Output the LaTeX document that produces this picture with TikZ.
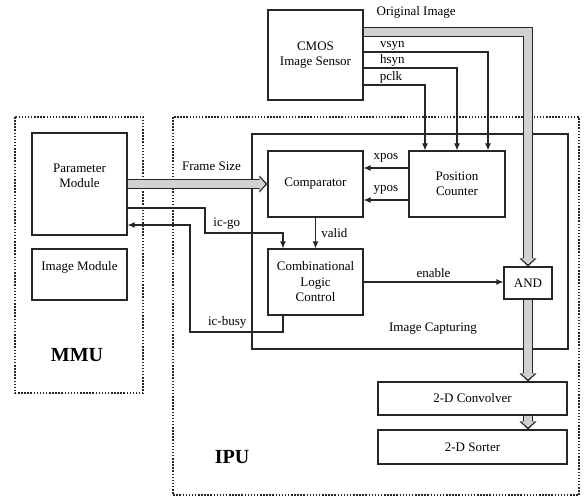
\documentclass[tikz,border=0pt]{standalone}
\usepackage{fontspec}
\setmainfont{Liberation Serif}
\usetikzlibrary{arrows.meta, positioning}

\begin{document}
\begin{tikzpicture}[x=1pt, y=-1pt, font=\fontsize{13}{15.5}\selectfont,
  blk/.style={draw=black!85, line width=1.1pt, minimum width=95pt, align=center, inner sep=2pt},
  grp/.style={draw=black!85, line width=1.5pt, dash pattern=on 1.5pt off 1.6pt},
  sig/.style={draw=black!85, line width=1.1pt, -{Latex[length=7pt,width=6pt]}},
  bus/.style={draw=black!85, line width=10.2pt, -{Triangle[length=8pt, width=17pt, line width=0pt]},
              postaction={draw=black!18, line width=8pt, shorten >=2pt,
                          -{Triangle[length=5.8pt, width=13pt, line width=0pt, color=black!18]}}},
  big/.style={font=\fontsize{20}{24}\selectfont\bfseries},
]
  \useasboundingbox (0,0) rectangle (584,498);
  % MMU, IPU and capture frames
  \draw[grp] (15,117) rectangle (143,393);
  \draw[grp] (173,117) rectangle (579,495);
  \draw[draw=black!85, line width=1.1pt] (252,134) rectangle (568,349);

  \node[blk, minimum height=90pt] (cmos) at (315.5,55) {CMOS\\Image Sensor};
  \node[blk, minimum height=102pt,
        label={[align=center, anchor=north, yshift=-28pt]north:{Parameter\\Module}}] (pm) at (79.5,184) {};
  \node[blk, minimum height=51pt,
        label={[anchor=north, yshift=-9pt]north:Image Module}] (im) at (79.5,274.5) {};
  \node[blk, minimum height=66pt] (comp) at (315.5,184) {Comparator};
  \node[blk, minimum width=96pt, minimum height=66pt] (pc) at (457,184) {Position\\Counter};
  \node[blk, minimum height=66pt] (clc) at (315.5,282) {Combinational\\Logic\\Control};
  \node[blk, minimum width=48pt, minimum height=32pt] (and) at (528,283) {AND};
  \node[blk, minimum width=189pt, minimum height=33pt] (conv) at (472.5,398.5) {2-D Convolver};
  \node[blk, minimum width=189pt, minimum height=34pt] (sort) at (472.5,447) {2-D Sorter};
  \node (cap) at (433,329) {Image Capturing};
  \node[big] (mmu) at (77,355) {MMU};
  \node[big] (ipu) at (232,457) {IPU};

  % sensor signals
  \draw[sig] ([yshift=3pt]cmos.east) -| ([xshift=31pt]pc.north)
    node[pos=0.06, anchor=south west, inner sep=1pt] {vsyn};
  \draw[sig] ([yshift=-13pt]cmos.east) -| (pc.north)
    node[pos=0.08, anchor=south west, inner sep=1pt] {hsyn};
  \draw[sig] ([yshift=-30pt]cmos.east) -| ([xshift=-32pt]pc.north)
    node[pos=0.12, anchor=south west, inner sep=1pt] {pclk};
  \draw[sig] ([yshift=16pt]pc.west) -- ([yshift=16pt]comp.east) node[midway, above=2pt] {xpos};
  \draw[sig] ([yshift=-16pt]pc.west) -- ([yshift=-16pt]comp.east) node[midway, above=2pt] {ypos};
  \draw[sig] (comp.south) -- (clc.north) node[midway, right=2pt] {valid};
  \draw[sig] ([yshift=-24pt]pm.east) -| (205,233) -| ([xshift=-32.5pt]clc.north)
    node[pos=0.14, above] {ic-go};
  \draw[sig] ([xshift=-32.5pt]clc.south) |- (190,332) node[pos=0.8, above] {ic-busy}
    |- ([yshift=-41pt]pm.east);
  \draw[sig] (clc.east) -- (clc.east -| and.west) node[midway, above] {enable};

  % image buses
  \draw[bus] ([yshift=23pt]cmos.east) -| (and.north) node[pos=0.16, above=5pt] {Original Image};
  \draw[bus] (pm.east) -- (comp.west) node[pos=0.6, above=5pt] {Frame Size};
  \draw[bus] (and.south) -- (conv.north -| and.south);
  \draw[bus] (conv.south -| and.south) -- (sort.north -| and.south);
\end{tikzpicture}
\end{document}
